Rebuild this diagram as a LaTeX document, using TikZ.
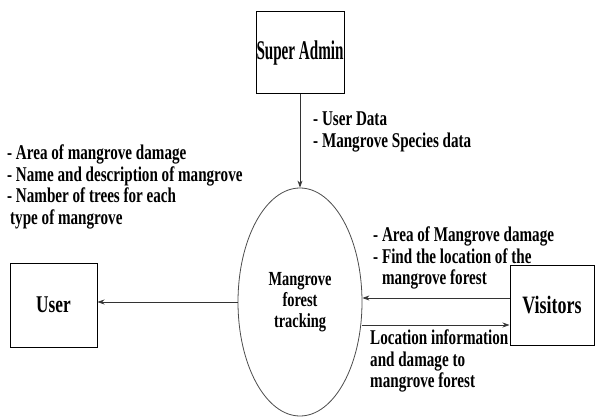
\documentclass[tikz,border=0pt]{standalone}
\usepackage{fontspec}
\setmainfont[FakeStretch=0.72]{Liberation Serif}
\newfontfamily\narrowfont[FakeStretch=0.56]{Liberation Serif}
\usetikzlibrary{shapes.geometric,arrows.meta}

\begin{document}
\begin{tikzpicture}[x=1pt,y=-1pt,
  entity/.style={draw,line width=1pt,inner sep=0},
  flow/.style={draw=black!80,line width=0.8pt,-{Stealth[length=7pt,width=5pt]}},
  note/.style={align=left,inner sep=0,anchor=north west,font=\fontsize{21}{21.5}\selectfont\bfseries}]
\useasboundingbox (0,0) rectangle (595,417);
\node[entity,minimum width=88,minimum height=82,font=\narrowfont\fontsize{27}{28}\selectfont\bfseries] (admin) at (300,53) {Super Admin};
\node[entity,minimum width=87,minimum height=84,font=\fontsize{24}{24}\selectfont\bfseries] (user) at (53.5,305) {User};
\node[entity,minimum width=84,minimum height=80,font=\fontsize{25}{25}\selectfont\bfseries] (visitors) at (552,305) {Visitors};
\node[ellipse,draw=black!70,line width=0.8pt,minimum width=124,minimum height=228,inner sep=0,align=center,font=\fontsize{20}{21}\selectfont\bfseries] (track) at (300,302) {Mangrove\\forest\\tracking};
% data flows
\draw[flow] (admin) -- (track);
\draw[flow] (track.west) -- (track.west -| user.east);
\draw[flow] ([yshift=7pt]visitors.west) -- ([yshift=7pt]visitors.west -| track.east);
\draw[flow] ([yshift=-20pt]visitors.west -| track.east) -- ([yshift=-20pt]visitors.west);
% flow labels
\node[note] (admindata) at (313,112) {- User Data\\- Mangrove Species data};
\node[note] (userdata) at (7,145) {- Area of mangrove damage\\- Name and description of mangrove\\- Namber of trees for each\\\hspace{3pt}type of mangrove};
\node[note] (visitin) at (373,227) {- Area of Mangrove damage\\- Find the location of the\\\phantom{- }mangrove forest};
\node[note] (visitout) at (370,330) {Location information\\and damage to\\mangrove forest};
\end{tikzpicture}
\end{document}
